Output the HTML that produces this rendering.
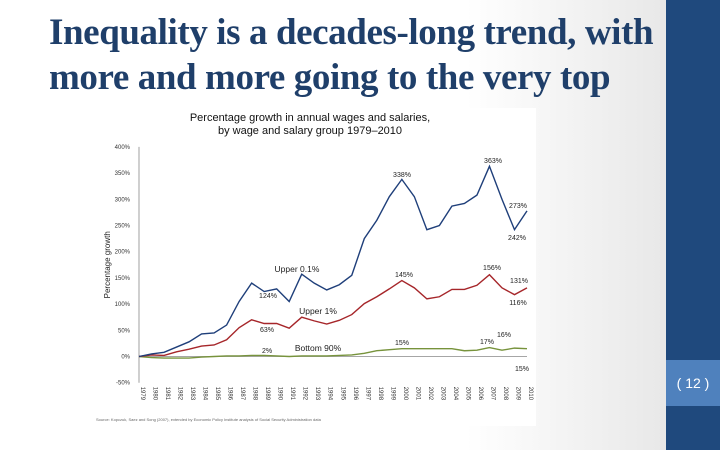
<!DOCTYPE html>
<html><head><meta charset="utf-8"><style>
html,body{margin:0;padding:0;width:720px;height:450px;overflow:hidden;background:#fff;font-family:"Liberation Sans",sans-serif}
#bg{position:absolute;left:0;top:0;width:666px;height:450px;background:linear-gradient(to right,#fff 0%,#fff 70%,#e8e8e8 100%)}
#bar{position:absolute;left:666px;top:0;width:54px;height:450px;background:#1f497d}
#pn{position:absolute;left:666px;top:360px;width:54px;height:46px;background:#4f81bd;color:#fff;font-size:14px;text-align:center;line-height:46px}
#title{position:absolute;left:49px;top:10px;font-family:"Liberation Serif",serif;font-weight:bold;font-size:37px;line-height:45px;color:#1f3f6a;letter-spacing:-0.4px;white-space:nowrap}
#chart{position:absolute;left:90px;top:108px}
</style></head><body>
<div id="bg"></div>
<div id="bar"></div>
<div id="pn">( 12 )</div>
<div id="title">Inequality is a decades-long trend, with<br>more and more going to the very top</div>
<svg id="chart" width="446" height="318" font-family="Liberation Sans, sans-serif"></svg>
<script>
const years=[];for(let y=1979;y<=2010;y++)years.push(y);
const top01=[0,5,8,18,28,43,45,60,105,140,124,129,105,157,140,127,137,155,225,260,305,338,305,242,250,287,292,308,363,300,242,278];
const top1=[0,3,2,9,14,20,22,32,55,70,63,63,54,75,68,62,69,80,101,114,129,145,131,110,114,128,128,136,156,131,118,131];
const bottom90=[0,-2,-3,-3,-3,-1,0,1,1,2,2,1,0,1,1,1,2,3,6,11,13,15,15,15,15,15,11,12,17,12,16,15];
const yTicks=[-50,0,50,100,150,200,250,300,350,400];
const svg=document.getElementById('chart');const NS='http://www.w3.org/2000/svg';
const OX=90,OY=108;
function X(i){return 139-OX+i*(527-139)/(years.length-1);}
function Y(v){return 356.5-OY-v*26.2/50;}
function mk(t,a,p){const e=document.createElementNS(NS,t);for(const k in a)e.setAttribute(k,a[k]);(p||svg).appendChild(e);return e;}
const bgr=mk('rect',{x:0,y:0,width:446,height:318,fill:'#fff'});


let t=mk('text',{x:220,y:13,'font-size':11,'text-anchor':'middle',fill:'#111'});t.textContent='Percentage growth in annual wages and salaries,';


t=mk('text',{x:220,y:26,'font-size':11,'text-anchor':'middle',fill:'#111'});t.textContent='by wage and salary group 1979–2010';


const ax=mk('line',{x1:X(0),x2:X(0),y1:Y(400),y2:Y(-50),stroke:'#888','stroke-width':0.8});


const xa=mk('line',{x1:X(0),x2:X(31),y1:Y(0),y2:Y(0),stroke:'#888','stroke-width':0.8});


yTicks.forEach(v=>{const e=mk('text',{x:X(0)-9,y:Y(v)+2,'font-size':6,'text-anchor':'end',fill:'#333'});e.textContent=v+'%';

});
years.forEach((y,i)=>{const e=mk('text',{x:0,y:0,'font-size':6,fill:'#333',transform:`translate(${X(i)+2},${Y(-50)+4}) rotate(90)`});e.textContent=y;

});
t=mk('text',{x:0,y:0,'font-size':8,fill:'#222',transform:`translate(20,${Y(175)}) rotate(-90)`,'text-anchor':'middle'});t.textContent='Percentage growth';


function line(d,c,n){const p=mk('polyline',{points:d.map((v,i)=>X(i)+','+Y(v)).join(' '),fill:'none',stroke:c,'stroke-width':1.4});

}
line(bottom90,'#77933c','line-bottom-90');line(top1,'#a6262a','line-upper-1');line(top01,'#1f3f7a','line-upper-0-1');
function lab(s,x,y,sz,n){const e=mk('text',{x:x-OX,y:y-OY,'font-size':sz||7,fill:'#222','text-anchor':'middle'});e.textContent=s;

}
lab('Upper 0.1%',297,272,8.5,'series-label-upper-0-1');lab('Upper 1%',318,314,8.5,'series-label-upper-1');lab('Bottom 90%',318,351,8.5,'series-label-bottom-90');
lab('338%',402,177);lab('363%',493,163);lab('273%',518,208);lab('242%',517,240);lab('124%',268,298);lab('145%',404,277);lab('156%',492,270);lab('131%',519,283);lab('116%',518,305);
lab('63%',267,332);lab('2%',267,353);lab('15%',402,345);lab('17%',487,344);lab('16%',504,337);lab('15%',522,371);
t=mk('text',{x:6,y:313,'font-size':4,fill:'#666'});t.textContent='Source: Kopczuk, Saez and Song (2007), extended by Economic Policy Institute analysis of Social Security Administration data';


</script>
</body></html>
